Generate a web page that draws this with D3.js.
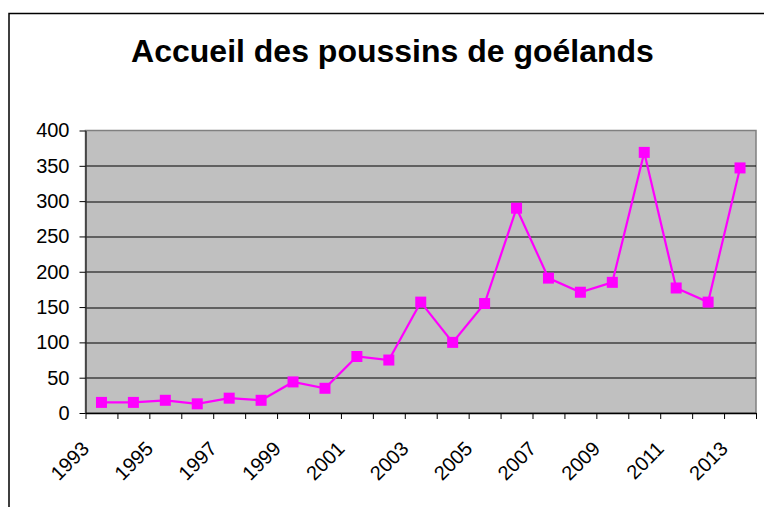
<!DOCTYPE html>
<html>
<head>
<meta charset="utf-8">
<script src="https://cdn.jsdelivr.net/npm/d3@7"></script>
<style>
  body { margin: 0; background: #fff; }
  svg { display: block; font-family: "Liberation Sans", Arial, sans-serif; }
  .axis text { font-size: 20px; fill: #000; }
</style>
</head>
<body>
<div id="chart"></div>
<script>
// data
const years = ['1993','1994','1995','1996','1997','1998','1999','2000','2001','2002','2003',
  '2004','2005','2006','2007','2008','2009','2010','2011','2012','2013'];
const chicks = [15, 15, 18, 13, 21, 18, 44, 35, 80, 75, 157, 100, 155, 290, 191, 171, 185, 369, 177, 157, 347];
const yTicks = [0, 50, 100, 150, 200, 250, 300, 350, 400];
const labelYears = years.filter((d, i) => i % 2 === 0);

const width = 764, height = 507;
const margin = {top: 130.5, right: 8, bottom: 94, left: 85.5};
const innerW = width - margin.left - margin.right;
const innerH = height - margin.top - margin.bottom;

const svg = d3.select('#chart').append('svg')
    .attr('width', width)
    .attr('height', height);

// outer chart frame (runs off the right and bottom of the page)
svg.append('rect')
    .attr('x', 9).attr('y', 13.5)
    .attr('width', 900).attr('height', 700)
    .attr('fill', 'none')
    .attr('stroke', '#000')
    .attr('stroke-width', 1.5);

svg.append('text')
    .attr('x', 392.5)
    .attr('y', 62)
    .attr('text-anchor', 'middle')
    .style('font-size', '32px')
    .style('font-weight', 'bold')
    .text('Accueil des poussins de goélands');

const chart = svg.append('g')
    .attr('transform', `translate(${margin.left},${margin.top})`);

const xScale = d3.scaleBand().domain(years).range([0, innerW]).padding(0);
const xEdge = d3.scaleLinear().domain([0, years.length]).range([0, innerW]);
const yScale = d3.scaleLinear().domain([0, 400]).range([innerH, 0]);

// plot area
chart.append('rect')
    .attr('width', innerW)
    .attr('height', innerH)
    .attr('fill', '#c0c0c0')
    .attr('stroke', '#808080')
    .attr('stroke-width', 1.5);

// gridlines
chart.append('g')
  .selectAll('line')
  .data(yTicks.filter(d => d > 0 && d < 400))
  .join('line')
    .attr('x1', 0).attr('x2', innerW)
    .attr('y1', d => Math.round(yScale(d)) + 0.5)
    .attr('y2', d => Math.round(yScale(d)) + 0.5)
    .attr('stroke', '#000');

// y axis
const yAxisG = chart.append('g')
    .attr('class', 'axis')
    .call(d3.axisLeft(yScale).tickValues(yTicks).tickSize(6).tickPadding(10).tickSizeOuter(0));
yAxisG.select('.domain').attr('stroke', '#333').attr('stroke-width', 1.5);

// x axis: tick marks on category edges
const xAxisG = chart.append('g')
    .attr('class', 'axis')
    .attr('transform', `translate(0,${innerH})`)
    .call(d3.axisBottom(xEdge).tickValues(d3.range(years.length + 1))
      .tickSize(6).tickSizeOuter(0).tickFormat(''));
xAxisG.select('.domain').attr('stroke', '#000').attr('stroke-width', 1.5);

// x labels, every other year, rotated
chart.append('g')
    .attr('class', 'axis')
  .selectAll('text')
  .data(labelYears)
  .join('text')
    .attr('text-anchor', 'end')
    .attr('transform', d => `translate(${xScale(d) + xScale.bandwidth() / 2 - 11},${innerH + 37}) rotate(-45)`)
    .style('font-size', '20px')
    .text(d => d);

// series
const line = d3.line()
    .x((d, i) => xScale(years[i]) + xScale.bandwidth() / 2)
    .y(d => yScale(d));

chart.append('path')
    .datum(chicks)
    .attr('fill', 'none')
    .attr('stroke', '#ff00ff')
    .attr('stroke-width', 2.2)
    .attr('d', line);

const ms = 11;
chart.append('g')
  .selectAll('rect')
  .data(chicks)
  .join('rect')
    .attr('x', (d, i) => xScale(years[i]) + xScale.bandwidth() / 2 - ms / 2)
    .attr('y', d => yScale(d) - ms / 2)
    .attr('width', ms)
    .attr('height', ms)
    .attr('fill', '#ff00ff');
</script>
</body>
</html>
